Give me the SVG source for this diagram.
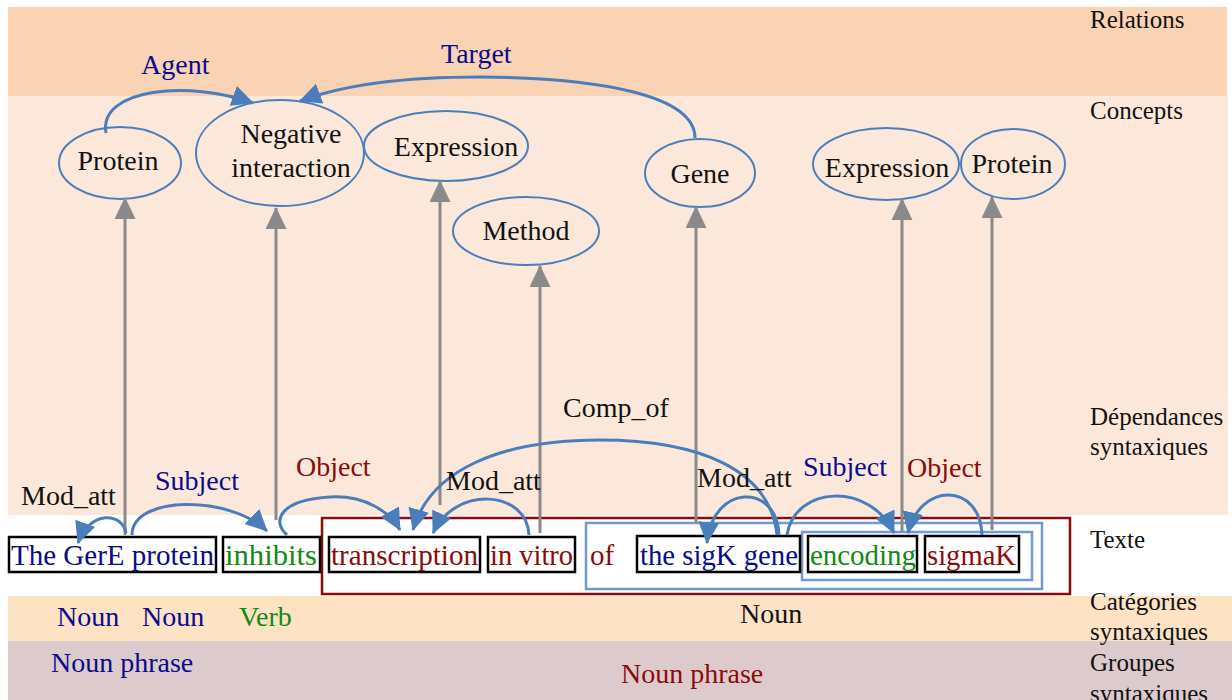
<svg xmlns="http://www.w3.org/2000/svg" width="1232" height="700" viewBox="0 0 1232 700" font-family="'Liberation Serif', 'Times New Roman', Times, 'DejaVu Serif', serif">
<style>
text{font-family:'Liberation Serif','Times New Roman',Times,'DejaVu Serif',serif;}
.side{font-size:25px;fill:#111;}
.lab{font-size:28px;}
.blk{fill:#111;}
.navy{fill:#0a0a8c;}
.red{fill:#8b0a0a;}
.grn{fill:#118a11;}
.con ellipse{fill:none;stroke:#4a7ebb;stroke-width:2;}
.con text{font-size:28px;fill:#111;text-anchor:middle;}
.word rect{fill:#fff;stroke:#000;stroke-width:2.5;}
.word text{font-size:29px;}
.dep{fill:none;stroke:#4a7ebb;stroke-width:3;marker-end:url(#ba);}
.map{fill:none;stroke:#8a8a8a;stroke-width:3;marker-end:url(#ga);}
</style>
<defs>
<marker id="ba" markerUnits="userSpaceOnUse" markerWidth="24" markerHeight="22" refX="21" refY="10.5" orient="auto"><path d="M0,0 L22,10.5 L0,21 z" fill="#4a7ebb"/></marker>
<marker id="ga" markerUnits="userSpaceOnUse" markerWidth="24" markerHeight="22" refX="21" refY="10.5" orient="auto"><path d="M0,0 L22,10.5 L0,21 z" fill="#8a8a8a"/></marker>
</defs>
<rect width="1232" height="700" fill="#fff"/>
<g id="bands">
<rect x="8" y="7" width="1219" height="89" fill="#f9d3b3"/>
<rect x="8" y="96" width="1220" height="419" fill="#fce8da"/>
<rect x="8" y="596" width="1224" height="45" fill="#fde2c4"/>
<rect x="8" y="641" width="1224" height="59" fill="#dccacc"/>
</g>
<g id="side-labels" class="side">
<text x="1090" y="28">Relations</text>
<text x="1090" y="119">Concepts</text>
<text x="1090" y="425">Dépendances</text>
<text x="1090" y="455">syntaxiques</text>
<text x="1090" y="548">Texte</text>
<text x="1090" y="610">Catégories</text>
<text x="1090" y="640">syntaxiques</text>
<text x="1090" y="671">Groupes</text>
<text x="1090" y="702">syntaxiques</text>
</g>
<g id="groups">
<rect x="322" y="518" width="748" height="76" fill="none" stroke="#8b0a0a" stroke-width="2.5"/>
<rect x="586" y="523" width="456" height="66" fill="none" stroke="#6f9bd1" stroke-width="2.5"/>
<rect x="802" y="532" width="230" height="48" fill="none" stroke="#6f9bd1" stroke-width="2.5"/>
</g>
<g id="concepts" class="con">
<g id="c-protein1"><ellipse cx="120" cy="163" rx="61" ry="36"/><text x="118" y="170">Protein</text></g>
<g id="c-negint"><ellipse cx="280" cy="153" rx="84" ry="53"/><text x="291" y="143">Negative</text><text x="291" y="177">interaction</text></g>
<g id="c-expr1"><ellipse cx="446" cy="146" rx="82" ry="35"/><text x="456" y="156">Expression</text></g>
<g id="c-method"><ellipse cx="526" cy="231" rx="73" ry="34"/><text x="526" y="240">Method</text></g>
<g id="c-gene"><ellipse cx="700" cy="173" rx="55" ry="34"/><text x="700" y="183">Gene</text></g>
<g id="c-expr2"><ellipse cx="886" cy="164" rx="73" ry="36"/><text x="887" y="177">Expression</text></g>
<g id="c-protein2"><ellipse cx="1013" cy="164" rx="52" ry="35"/><text x="1012" y="173">Protein</text></g>
</g>
<g id="words" class="word">
<g id="w1"><rect x="9" y="537" width="207" height="35"/><text x="11" y="565" class="navy" textLength="203" lengthAdjust="spacingAndGlyphs">The GerE protein</text></g>
<g id="w2"><rect x="223" y="537" width="97" height="35"/><text x="225" y="565" class="grn" textLength="92" lengthAdjust="spacingAndGlyphs">inhibits</text></g>
<g id="w3"><rect x="329" y="537" width="151" height="35"/><text x="331" y="565" class="red" textLength="147" lengthAdjust="spacingAndGlyphs">transcription</text></g>
<g id="w4"><rect x="488" y="537" width="87" height="35"/><text x="490" y="565" class="red" textLength="83" lengthAdjust="spacingAndGlyphs">in vitro</text></g>
<g id="w5"><text x="590" y="565" class="red">of</text></g>
<g id="w6"><rect x="637" y="536" width="163" height="36"/><text x="640" y="565" class="navy" textLength="158" lengthAdjust="spacingAndGlyphs">the sigK gene</text></g>
<g id="w7"><rect x="808" y="536" width="109" height="36"/><text x="810" y="565" class="grn" textLength="106" lengthAdjust="spacingAndGlyphs">encoding</text></g>
<g id="w8"><rect x="925" y="536" width="94" height="36"/><text x="927" y="565" class="red" textLength="89" lengthAdjust="spacingAndGlyphs">sigmaK</text></g>
</g>
<g id="connectors">
<path class="map" d="M125,535 L125,198"/>
<path class="map" d="M276,520 L276,208"/>
<path class="map" d="M440,505 L440,181"/>
<path class="map" d="M540,533 L540,266"/>
<path class="map" d="M696,523 L696,207"/>
<path class="map" d="M902,532 L902,199"/>
<path class="map" d="M992,530 L992,197"/>
<path class="dep" d="M106,133 C98,88 190,80 253,103"/>
<path class="dep" d="M695,138 C695,95 600,78 480,77 C400,77 340,86 300,101"/>
<path class="dep" d="M126,533 C122,512 90,510 78,543"/>
<path class="dep" d="M132,535 C132,495 230,495 267,531"/>
<path class="dep" d="M287,535 C272,522 278,500 330,497 C365,495 390,512 400,530"/>
<path class="dep" d="M777,535 C770,470 700,440 600,440 C500,440 430,470 413,530"/>
<path class="dep" d="M529,535 C527,490 455,485 433,533"/>
<path class="dep" d="M779,535 C777,482 712,484 707,543"/>
<path class="dep" d="M787,535 C795,485 870,482 894,533"/>
<path class="dep" d="M982,535 C980,482 920,482 908,533"/>
</g>
<g id="rel-labels" class="lab">
<text x="141" y="74" class="navy">Agent</text>
<text x="441" y="63" class="navy">Target</text>
<text x="21" y="505" class="blk">Mod_att</text>
<text x="155" y="490" class="navy">Subject</text>
<text x="296" y="476" class="red">Object</text>
<text x="446" y="490" class="blk">Mod_att</text>
<text x="563" y="417" class="blk">Comp_of</text>
<text x="697" y="487" class="blk">Mod_att</text>
<text x="803" y="476" class="navy">Subject</text>
<text x="907" y="477" class="red">Object</text>
</g>
<g id="categories" class="lab">
<text x="57" y="626" class="navy">Noun</text>
<text x="142" y="626" class="navy">Noun</text>
<text x="239" y="626" class="grn">Verb</text>
<text x="740" y="623" class="blk">Noun</text>
<text x="51" y="672" class="navy">Noun phrase</text>
<text x="621" y="683" class="red">Noun phrase</text>
</g>
</svg>
